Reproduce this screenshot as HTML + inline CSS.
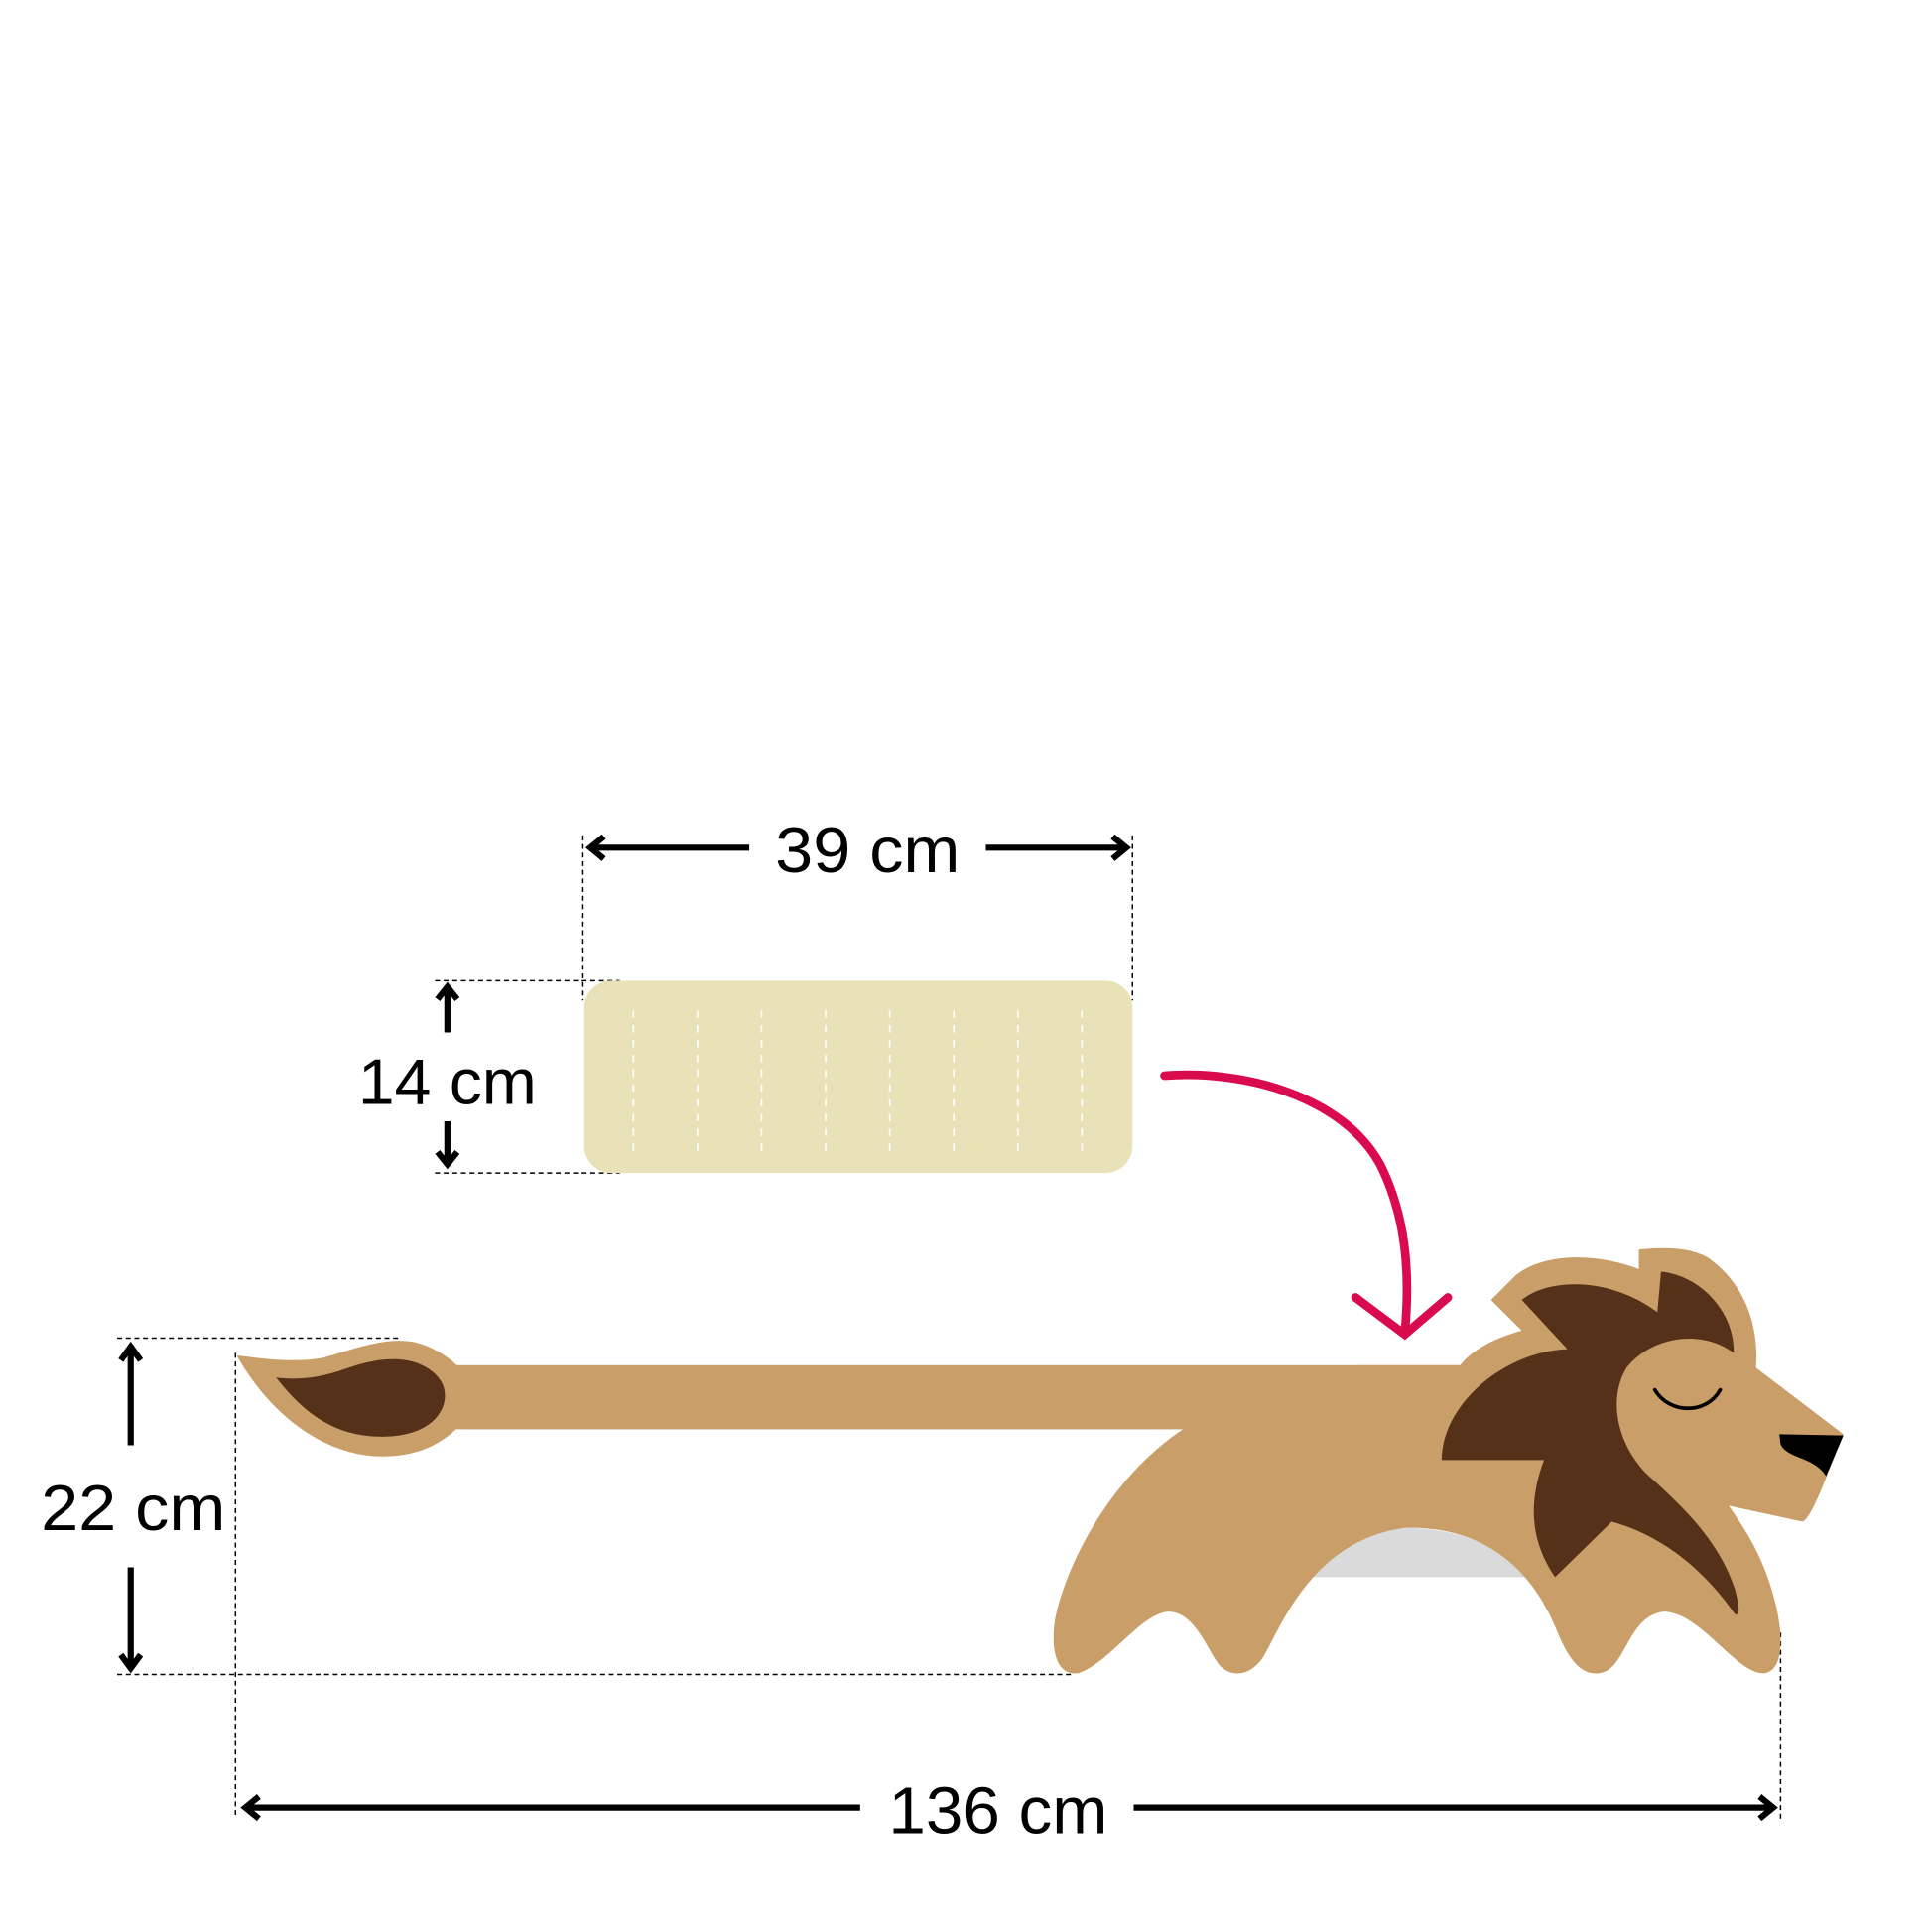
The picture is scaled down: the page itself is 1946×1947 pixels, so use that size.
<!DOCTYPE html>
<html><head><meta charset="utf-8"><style>html,body{margin:0;padding:0;background:#fff}svg{display:block}</style></head>
<body>
<svg width="1946" height="1947" viewBox="0 0 1567 1568" xmlns="http://www.w3.org/2000/svg">
<g fill="none" stroke="#000" stroke-width="1.2" stroke-dasharray="4,3">
<line x1="473" y1="678" x2="473" y2="812"/>
<line x1="919" y1="678" x2="919" y2="812"/>
<line x1="353" y1="796" x2="503" y2="796"/>
<line x1="353" y1="952" x2="503" y2="952"/>
<line x1="95" y1="1086" x2="325" y2="1086"/>
<line x1="95" y1="1359" x2="872" y2="1359"/>
<line x1="191" y1="1098" x2="191" y2="1476"/>
<line x1="1445" y1="1325" x2="1445" y2="1476"/>
</g>
<rect x="474" y="796" width="445" height="156" rx="22" fill="#E9E2B9"/>
<g stroke="#fff" stroke-width="1.3" stroke-dasharray="6,6">
<line x1="514" y1="820" x2="514" y2="934"/><line x1="566" y1="820" x2="566" y2="934"/>
<line x1="618" y1="820" x2="618" y2="934"/><line x1="670" y1="820" x2="670" y2="934"/>
<line x1="722" y1="820" x2="722" y2="934"/><line x1="774" y1="820" x2="774" y2="934"/>
<line x1="826" y1="820" x2="826" y2="934"/><line x1="878" y1="820" x2="878" y2="934"/>
</g>
<g stroke="#000" stroke-width="5" fill="none" stroke-linecap="butt">
<line x1="479" y1="688" x2="608" y2="688"/><polyline points="490,679 479,688 490,697"/>
<line x1="800" y1="688" x2="913" y2="688"/><polyline points="903,679 914,688 903,697"/>
<line x1="363" y1="802" x2="363" y2="838"/><polyline points="355,811 363,801 371,811"/>
<line x1="363" y1="910" x2="363" y2="945"/><polyline points="355,935 363,945 371,935"/>
<line x1="106" y1="1094" x2="106" y2="1173"/><polyline points="98,1104 106,1093 114,1104"/>
<line x1="106" y1="1272" x2="106" y2="1354"/><polyline points="98,1343 106,1354 114,1343"/>
<line x1="200" y1="1467" x2="698" y2="1467"/><polyline points="210,1458 199,1467 210,1476"/>
<line x1="920" y1="1467" x2="1438" y2="1467"/><polyline points="1428,1458 1439,1467 1428,1476"/>
</g>
<g font-family="Liberation Sans, sans-serif" font-size="52" fill="#000" text-anchor="middle">
<text x="704" y="708" textLength="150" lengthAdjust="spacingAndGlyphs">39 cm</text>
<text x="363" y="896" textLength="145" lengthAdjust="spacingAndGlyphs">14 cm</text>
<text x="108" y="1242" textLength="150" lengthAdjust="spacingAndGlyphs">22 cm</text>
<text x="810" y="1488" font-size="54" textLength="178" lengthAdjust="spacingAndGlyphs">136 cm</text>
</g>
<path d="M945,873 C1010,868 1090,890 1120,945 C1140,985 1145,1030 1140,1082" fill="none" stroke="#D90B4E" stroke-width="7" stroke-linecap="round"/>
<polyline points="1100,1053 1140,1083 1175,1053" fill="none" stroke="#D90B4E" stroke-width="7" stroke-linecap="round"/>
<path d="M1065,1280 C1085,1255 1110,1240 1140,1240 C1190,1240 1225,1260 1240,1280 Z" fill="#DADADA"/>
<rect x="360" y="1108" width="840" height="52" fill="#C99E68"/>
<path d="M192,1100 C215,1103 240,1106 262,1102 C285,1096 310,1085 335,1089 C355,1093 372,1108 372,1110 L372,1158 C355,1175 335,1182 310,1182 C265,1182 220,1150 192,1100 Z" fill="#C99E68"/>
<path d="M224,1118 C240,1120 258,1119 280,1111 C300,1104 320,1100 338,1106 C356,1113 364,1125 360,1140 C354,1158 334,1166 310,1166 C270,1166 245,1145 224,1118 Z" fill="#55311A"/>
<path d="M960,1160 C900,1200 865,1270 856,1315 C852,1345 860,1360 875,1358 C900,1350 925,1310 948,1308 C970,1308 980,1340 990,1352 C1000,1362 1015,1360 1025,1345 C1040,1320 1065,1250 1140,1240 C1210,1238 1245,1280 1262,1320 C1272,1345 1282,1360 1298,1358 C1320,1355 1320,1312 1350,1308 C1380,1308 1410,1360 1432,1358 C1450,1355 1446,1320 1440,1298 C1430,1260 1415,1240 1403,1222 L1463,1235 C1472,1230 1485,1190 1496,1164 L1425,1110 C1428,1075 1415,1040 1385,1020 C1370,1012 1350,1012 1330,1014 L1330,1030 C1300,1018 1255,1015 1230,1035 L1210,1055 L1235,1080 C1215,1085 1195,1095 1185,1108 L1100,1108 L960,1160 Z" fill="#C99E68"/>
<path d="M1235,1055 C1255,1038 1305,1035 1345,1065 L1348,1032 C1380,1035 1408,1065 1407,1098 C1380,1078 1340,1085 1320,1110 C1305,1135 1312,1170 1335,1195 C1365,1222 1395,1250 1408,1290 C1412,1305 1412,1312 1408,1310 C1380,1270 1345,1245 1308,1235 L1262,1280 C1245,1255 1238,1225 1253,1185 L1170,1185 C1170,1140 1220,1097 1272,1095 Z" fill="#55311A"/>
<path d="M1343,1128 C1355,1148 1385,1148 1396,1128" fill="none" stroke="#000" stroke-width="3" stroke-linecap="round"/>
<path d="M1444,1164 L1496,1165 L1482,1198 C1472,1182 1450,1184 1445,1172 Z" fill="#000"/>
</svg>
</body></html>
